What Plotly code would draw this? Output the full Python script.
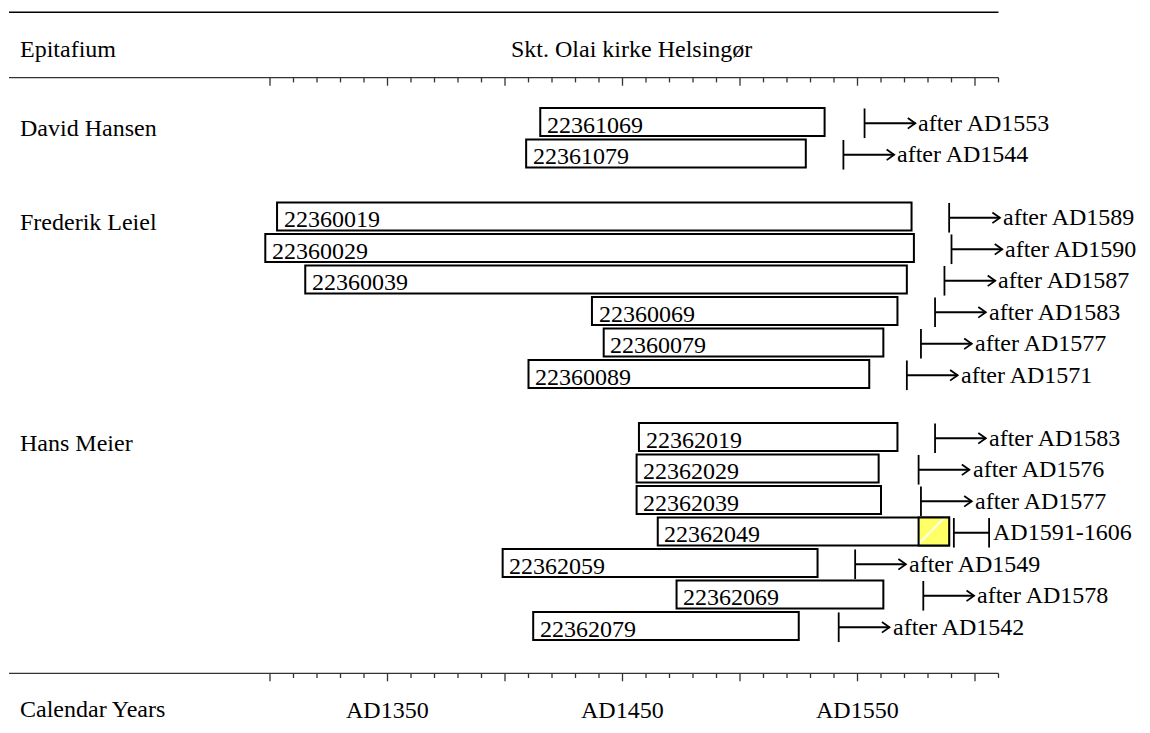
import plotly.graph_objects as go

# ---------------- data ----------------
site_title = "Skt. Olai kirke Helsingør"
header_left = "Epitafium"
axis_title = "Calendar Years"

group_names = ["David Hansen", "Frederik Leiel", "Hans Meier"]

sample_ids = [
    "22361069", "22361079",
    "22360019", "22360029", "22360039", "22360069", "22360079", "22360089",
    "22362019", "22362029", "22362039", "22362049", "22362059", "22362069", "22362079",
]
sample_group = [0, 0, 1, 1, 1, 1, 1, 1, 2, 2, 2, 2, 2, 2, 2]
first_ring = [1415, 1409, 1303, 1298, 1315, 1437, 1442, 1410, 1457, 1456, 1456, 1465, 1399, 1473, 1412]
last_ring = [1536, 1528, 1573, 1574, 1571, 1567, 1561, 1555, 1567, 1559, 1560, 1589, 1533, 1561, 1525]
sapwood_from = [None, None, None, None, None, None, None, None, None, None, None, 1576, None, None, None]
felled_after = [1553, 1544, 1589, 1590, 1587, 1583, 1577, 1571, 1583, 1576, 1577, None, 1549, 1578, 1542]
felled_range = [None] * 11 + [(1591, 1606)] + [None] * 3

tick_years = list(range(1300, 1611, 10))
major_tick_years = list(range(1300, 1611, 50))
label_years = [1350, 1450, 1550]
label_texts = ["AD1350", "AD1450", "AD1550"]

# ---------------- layout geometry ----------------
W, H = 1150, 733
PX_X0, YEAR0, PX_PER_YEAR = 270.0, 1300.0, 2.35
PX_Y0, PX_PER_ROW = 122.0, 31.5


def yr(px):
    return YEAR0 + (px - PX_X0) / PX_PER_YEAR


def rw(py):
    return (py - PX_Y0) / PX_PER_ROW


x_range = [yr(0), yr(W)]
y_range = [rw(H), rw(0)]

FONT = "'Liberation Serif', 'Times New Roman', 'DejaVu Serif', serif"
FS = 24

rows = [i + g for i, g in enumerate(sample_group)]

fig = go.Figure()

# main bars
fig.add_trace(go.Bar(
    orientation="h",
    y=rows,
    base=first_ring,
    x=[l - f for f, l in zip(first_ring, last_ring)],
    width=0.89,
    marker=dict(color="white", line=dict(color="black", width=2)),
    hoverinfo="skip",
))

# sapwood (yellow)
sw_rows = [r for r, s in zip(rows, sapwood_from) if s is not None]
sw_base = [s for s in sapwood_from if s is not None]
sw_len = [l - s for l, s in zip(last_ring, sapwood_from) if s is not None]
fig.add_trace(go.Bar(
    orientation="h",
    y=sw_rows,
    base=sw_base,
    x=sw_len,
    width=0.89,
    marker=dict(color="#ffff66", line=dict(color="black", width=2),
                pattern=dict(shape="/", fgcolor="white", bgcolor="#ffff66",
                             size=22, solidity=0.08, fillmode="replace")),
    hoverinfo="skip",
))

# felling markers
arrow_len = 21.6
head_back = 3.2
head_half = 0.17
mx, my = [], []
for r, f in zip(rows, felled_after):
    if f is None:
        continue
    tip = f + arrow_len
    mx += [f, f, None, f, tip, None, tip - head_back, tip, tip - head_back, None]
    my += [r - 0.43, r + 0.51, None, r + 0.04, r + 0.04, None,
           r + 0.04 - head_half, r + 0.04, r + 0.04 + head_half, None]
for r, fr in zip(rows, felled_range):
    if fr is None:
        continue
    a, b = fr
    mx += [a, a, None, b, b, None, a, b, None]
    my += [r - 0.43, r + 0.51, None, r - 0.43, r + 0.51, None, r + 0.04, r + 0.04, None]
fig.add_trace(go.Scatter(x=mx, y=my, mode="lines", line=dict(color="black", width=1.8),
                         hoverinfo="skip"))

# axis rules and ticks
rule_left = yr(9)
rule_right = tick_years[-1]
for py_axis in (77.7, 673.3):
    ya = rw(py_axis)
    tx, ty = [rule_left, rule_right, None], [ya, ya, None]
    for t in tick_years:
        ln = 8 if t in major_tick_years else 4.7
        tx += [t, t, None]
        ty += [ya, rw(py_axis + ln), None]
    fig.add_trace(go.Scatter(x=tx, y=ty, mode="lines", line=dict(color="#333333", width=1.3),
                             hoverinfo="skip"))

# top rule
fig.add_trace(go.Scatter(x=[rule_left, rule_right], y=[rw(12.3), rw(12.3)], mode="lines",
                         line=dict(color="black", width=1.5), hoverinfo="skip"))

ann = []


def text(x, y, s, xa="left"):
    ann.append(dict(x=x, y=y, xref="x", yref="y", text=s, showarrow=False,
                    xanchor=xa, yanchor="middle",
                    font=dict(family=FONT, size=FS, color="black")))


text(yr(18), rw(49), header_left)
text(yr(631.7), rw(49), site_title, xa="center")
text(yr(18), rw(709), axis_title)
for ly, lt in zip(label_years, label_texts):
    text(ly, rw(710), lt, xa="center")

# group labels
for g, name in enumerate(group_names):
    first_row = min(r for r, sg in zip(rows, sample_group) if sg == g)
    text(yr(18), first_row + 0.19, name)

# sample ids inside bars
for r, sid, f in zip(rows, sample_ids, first_ring):
    text(f + 2.0, r + 0.08, sid)

# felling texts
for r, f in zip(rows, felled_after):
    if f is not None:
        text(f + arrow_len + 0.5, r + 0.03, "after AD%d" % f)
for r, fr in zip(rows, felled_range):
    if fr is not None:
        text(fr[1] + 1.0, r + 0.03, "AD%d-%d" % fr)

fig.update_layout(
    width=W, height=H,
    margin=dict(l=0, r=0, t=0, b=0, pad=0),
    paper_bgcolor="white", plot_bgcolor="white",
    showlegend=False, barmode="overlay",
    font=dict(family=FONT),
    xaxis=dict(range=x_range, visible=False, fixedrange=True),
    yaxis=dict(range=y_range, visible=False, fixedrange=True),
    annotations=ann,
)

fig.write_html("out.html", config={"displayModeBar": False},
               post_script="document.body.style.margin='0';document.body.style.overflow='hidden';")
